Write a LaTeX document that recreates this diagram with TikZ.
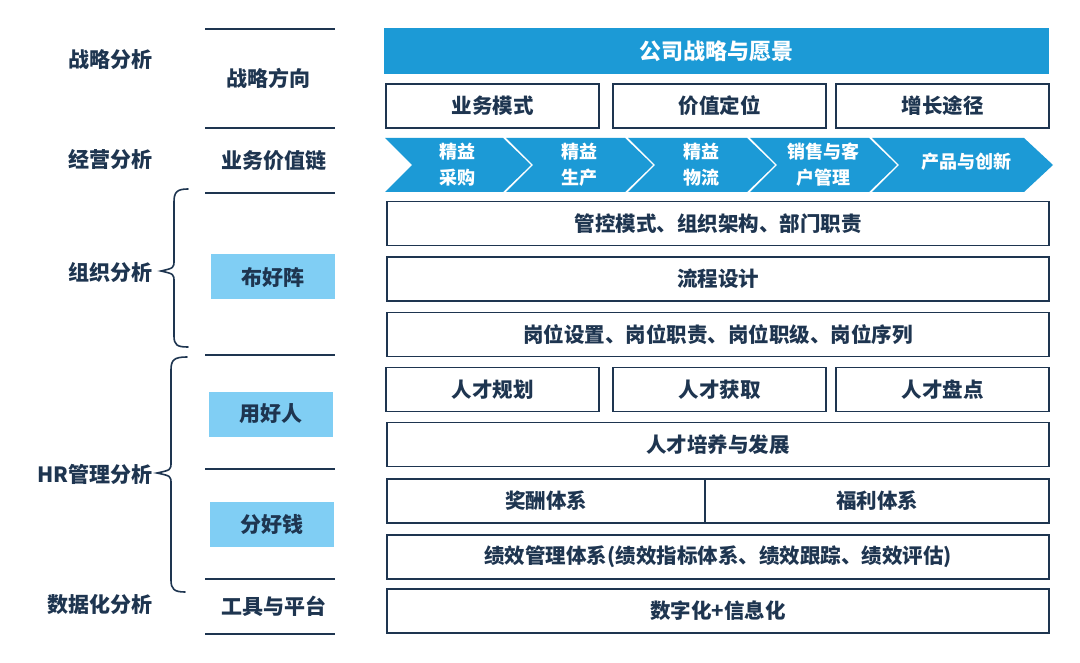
\documentclass[tikz,border=0pt]{standalone}
\usepackage{fontspec}
\setmainfont{Noto Sans CJK SC}
\usepackage{xcolor}
\definecolor{navy}{HTML}{1E3550}
\definecolor{chainblue}{HTML}{1C9AD6}
\definecolor{paleblue}{HTML}{80CEF4}
\tikzset{
  box/.style={draw=navy, line width=1.6pt, fill=white, rectangle, minimum height=44pt, text=navy,
    font=\bfseries\fontsize{20.5}{24}\selectfont, inner sep=0pt},
  topbar/.style={fill=chainblue, rectangle, minimum width=665pt, minimum height=46pt, text=white,
    font=\bfseries\fontsize{22}{26}\selectfont},
  chain/.style={text=white, align=center, font=\bfseries\fontsize{18}{26}\selectfont},
  sidelbl/.style={text=navy, font=\bfseries\fontsize{21}{24}\selectfont},
  midbox/.style={fill=paleblue, rectangle, minimum width=124pt, minimum height=45pt, text=navy,
    font=\bfseries\fontsize{21}{24}\selectfont},
  rule/.style={draw=navy, line width=1.6pt},
  brace/.style={draw=navy, line width=1.6pt, line cap=round}
}
\begin{document}
\begin{tikzpicture}[x=1pt, y=-1pt]
\useasboundingbox[fill=white] (0,0) rectangle (1080,663);

% left column
\draw (110,60) node[sidelbl](strat) {战略分析};
\draw (110,159) node[sidelbl](oper) {经营分析};
\draw (110,272) node[sidelbl](org) {组织分析};
\draw (95,474) node[sidelbl](hr) {HR管理分析};
\draw (100,605) node[sidelbl](data) {数据化分析};

% braces
\draw[brace] (188,189) .. controls (177,189) and (174,192) .. (174,202) -- (174,260)
  .. controls (174,268) .. (161,271) .. controls (174,274) .. (174,282) -- (174,336)
  .. controls (174,345) and (177,347) .. (188,347);
\draw[brace] (187,357) .. controls (174,357) and (171,360) .. (171,370) -- (171,462)
  .. controls (171,470) .. (157,473) .. controls (171,476) .. (171,484) -- (171,580)
  .. controls (171,589) and (174,592) .. (185,592);

% middle column
\foreach \y [count=\i] in {29,128,193,355,469,579,634} {
  \coordinate (ra\i) at (205,\y);
  \coordinate (rb\i) at (335,\y);
  \draw[rule] (ra\i) -- (rb\i);
}
\draw (268,78) node[sidelbl](dir) {战略方向};
\draw (274,161) node[sidelbl](valchain) {业务价值链};
\draw (273,277) node[midbox](layout) {布好阵};
\draw (271,414) node[midbox](people) {用好人};
\draw (272,524) node[midbox](money) {分好钱};
\draw (274,606) node[sidelbl](tools) {工具与平台};

% right column
\draw (716.5,51) node[topbar](vision) {公司战略与愿景};
\draw (492.5,106) node[box, minimum width=213pt](model) {业务模式};
\draw (719.5,106) node[box, minimum width=213pt](value) {价值定位};
\draw (942.5,106) node[box, minimum width=213pt](growth) {增长途径};

% value chain
\foreach \xa/\xb/\txt [count=\i] in {385/506/{精益\\采购}, 506/628/{精益\\生产}, 628/750/{精益\\物流}, 750/872/{销售与客\\户管理}} {
  \fill[chainblue] (\xa,138) -- (\xb-3,138) -- (\xb+25,165) -- (\xb-3,192) -- (\xa,192) -- (\xa+27,165) -- cycle;
  \draw ({(\xa+\xb)/2+12},165) node[chain](link\i) {\txt};
}
\fill[chainblue] (872,138) -- (1024,138) -- (1053,165) -- (1024,192) -- (872,192) -- (899,165) -- cycle;
\draw (966,162) node[chain](link5) {产品与创新};

\draw (718,223.5) node[box, minimum width=662pt](control) {管控模式、组织架构、部门职责};
\draw (718,279) node[box, minimum width=662pt](process) {流程设计};
\draw (718,334.5) node[box, minimum width=662pt](post) {岗位设置、岗位职责、岗位职级、岗位序列};
\draw (492.5,389.5) node[box, minimum width=213pt](plan) {人才规划};
\draw (719.5,389.5) node[box, minimum width=213pt](acquire) {人才获取};
\draw (942.5,389.5) node[box, minimum width=213pt](review) {人才盘点};
\draw (718,444.5) node[box, minimum width=662pt](develop) {人才培养与发展};
\draw (546,501) node[box, minimum width=318pt](reward) {奖酬体系};
\draw (877,501) node[box, minimum width=344pt](welfare) {福利体系};
\draw (718,557) node[box, minimum width=662pt](perf) {绩效管理体系(绩效指标体系、绩效跟踪、绩效评估)};
\draw (718,611) node[box, minimum width=662pt](digital) {数字化+信息化};
\end{tikzpicture}
\end{document}
